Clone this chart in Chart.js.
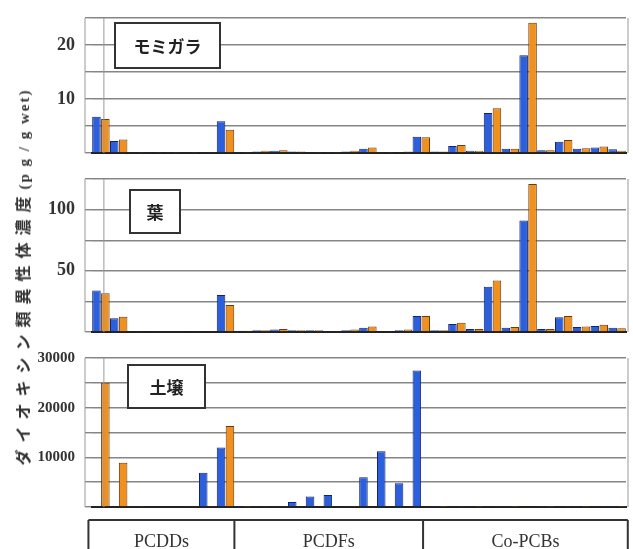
<!DOCTYPE html>
<html>
<head>
<meta charset="utf-8">
<script src="https://cdn.jsdelivr.net/npm/chart.js@4.4.0/dist/chart.umd.min.js"></script>
<style>
  html, body { margin: 0; padding: 0; background: #fff; }
  #wrap { position: relative; width: 633px; height: 549px; overflow: hidden; }
  .panel { position: absolute; left: 0; width: 633px; }
  #ytitle {
    position: absolute; left: 22px; top: 277px;
    transform: translate(-50%, -50%) rotate(-90deg);
    white-space: nowrap; color: #333;
    font: bold 16px "Noto Sans CJK JP"; letter-spacing: 7px;
  }
  #ytitle span { font: bold 15px "Liberation Serif"; letter-spacing: 2px; }
</style>
</head>
<body>
<div id="wrap">
  <div class="panel" style="top:-7px;height:185px"><canvas id="c1"></canvas></div>
  <div class="panel" style="top:154px;height:203px"><canvas id="c2"></canvas></div>
  <div class="panel" style="top:333px;height:216px"><canvas id="c3"></canvas></div>
  <div id="ytitle">ダイオキシン類異性体濃度<span>(p g / g wet)</span></div>
</div>
<script>
// congeners (labels hidden on the axis, grouped as PCDDs / PCDFs / Co-PCBs)
const categories = ['D1','D2','D3','D4','D5','D6','D7','D8',
  'F1','F2','F3','F4','F5','F6','F7','F8','F9','F10','F11',
  'P1','P2','P3','P4','P5','P6','P7','P8','P9','P10','P11'];

// モミガラ
const huskBlue   = [6.7, 2.2, 0.1, 0.1, 0.1, 0.1, 0.1, 5.9, 0.2, 0.3, 0.4, 0.3, 0.1, 0.1, 0.3,
                    0.8, 0.2, 0.2, 3.0, 0.3, 1.3, 0.4, 7.4, 0.8, 18.1, 0.5, 2.1, 0.8, 1.0, 0.7];
const huskOrange = [6.3, 2.5, 0.1, 0.1, 0.1, 0.1, 0.1, 4.3, 0.2, 0.4, 0.5, 0.3, 0.1, 0.1, 0.4,
                    1.0, 0.2, 0.3, 2.9, 0.3, 1.5, 0.4, 8.3, 0.8, 24.1, 0.5, 2.4, 0.9, 1.2, 0.4];
// 葉
const leafBlue   = [34, 11.3, 0.5, 0.5, 0.5, 0.5, 0.5, 30.3, 1, 1.5, 2, 1.5, 1.5, 0.5, 1.5,
                    3.5, 0.5, 1.5, 13, 1.5, 6.5, 2.5, 37, 3.5, 91, 2.5, 12, 4, 5, 3.5];
const leafOrange = [31.7, 12.4, 0.5, 0.5, 0.5, 0.5, 0.5, 22, 1, 1.5, 2.5, 1.5, 1.5, 0.5, 2,
                    4.5, 0.5, 2, 13, 1.5, 7.5, 2.5, 42, 4, 121, 2.5, 13, 4.5, 6, 3];
// 土壌
const soilBlue   = [0, 0, 80, 120, 150, 100, 6900, 12000, 50, 80, 100, 1000, 2100, 2400, 100,
                    6000, 11200, 4800, 27500, 60, 80, 60, 100, 60, 150, 60, 80, 60, 100, 60];
const soilOrange = [25000, 8900, 80, 120, 150, 100, 100, 16300, 50, 80, 100, 150, 150, 150, 100,
                    150, 150, 150, 200, 60, 80, 60, 100, 60, 150, 60, 80, 60, 100, 60];

const groups = ['PCDDs', 'PCDFs', 'Co-PCBs'];
const groupEdges = [-0.2, 8, 18.6, 30.1];   // in category units

const BLUE = '#2c5fdc', BLUE_EDGE = '#15236a';
const ORANGE = '#f0901e', ORANGE_EDGE = '#6b3a0e';

const framePlugin = {
  id: 'frame',
  afterDraw(chart) {
    const { ctx, chartArea: a, scales } = chart;
    ctx.save();
    ctx.strokeStyle = '#999';
    ctx.lineWidth = 1;
    ctx.beginPath();
    ctx.moveTo(a.left - 7, a.top); ctx.lineTo(a.left - 7, a.bottom);
    ctx.moveTo(a.right + 2, a.top); ctx.lineTo(a.right + 2, a.bottom);
    const x0 = scales.x.getPixelForValue(0) + 3;
    ctx.moveTo(x0, a.top); ctx.lineTo(x0, a.bottom);
    ctx.stroke();
    ctx.restore();
  }
};

const labelPlugin = {
  id: 'panelLabel',
  afterDraw(chart, args, o) {
    if (!o.text) return;
    const ctx = chart.ctx;
    ctx.save();
    ctx.fillStyle = '#fff';
    ctx.fillRect(o.x, o.y, o.w, o.h);
    ctx.strokeStyle = '#333';
    ctx.lineWidth = 2;
    ctx.strokeRect(o.x, o.y, o.w, o.h);
    ctx.fillStyle = '#222';
    ctx.font = 'bold 17px "Noto Sans CJK JP"';
    ctx.textAlign = 'center';
    ctx.textBaseline = 'middle';
    ctx.fillText(o.text, o.x + o.w / 2, o.y + o.h / 2 + 1);
    ctx.restore();
  }
};

const groupPlugin = {
  id: 'groupBox',
  afterDraw(chart, args, o) {
    if (!o.show) return;
    const { ctx, scales } = chart;
    const x = scales.x;
    const step = x.getPixelForValue(1) - x.getPixelForValue(0);
    const edge = e => x.getPixelForValue(0) - step / 2 + e * step;
    const top = o.top;
    ctx.save();
    ctx.strokeStyle = '#333';
    ctx.lineWidth = 2;
    ctx.beginPath();
    ctx.moveTo(edge(groupEdges[0]), top);
    ctx.lineTo(edge(groupEdges[groupEdges.length - 1]), top);
    groupEdges.forEach(e => { ctx.moveTo(edge(e), top); ctx.lineTo(edge(e), chart.height); });
    ctx.stroke();
    ctx.fillStyle = '#333';
    ctx.font = '18px "Liberation Serif"';
    ctx.textAlign = 'center';
    ctx.textBaseline = 'middle';
    groups.forEach((g, i) => {
      ctx.fillText(g, (edge(groupEdges[i]) + edge(groupEdges[i + 1])) / 2, top + 22);
    });
    ctx.restore();
  }
};

function makeChart(id, blue, orange, yMax, step, labelStep, label, padBottom, fontSize, group) {
  return new Chart(document.getElementById(id), {
    type: 'bar',
    data: {
      labels: categories,
      datasets: [
        { data: blue, backgroundColor: BLUE, borderColor: BLUE_EDGE, borderWidth: 1 },
        { data: orange, backgroundColor: ORANGE, borderColor: ORANGE_EDGE, borderWidth: 1 }
      ]
    },
    options: {
      responsive: true,
      maintainAspectRatio: false,
      animation: false,
      layout: { padding: { top: 25, right: 7, bottom: padBottom } },
      datasets: { bar: { categoryPercentage: 1.0, barPercentage: 0.96 } },
      plugins: {
        legend: { display: false },
        tooltip: { enabled: false },
        panelLabel: label,
        groupBox: group || { show: false }
      },
      scales: {
        x: {
          grid: { display: false, drawTicks: false },
          ticks: { display: false },
          border: { display: true, color: '#222', width: 2 }
        },
        y: {
          min: 0, max: yMax,
          afterFit: s => { s.width = 92; },
          ticks: {
            stepSize: step, padding: 10, color: '#333',
            font: { family: '"Liberation Serif"', size: fontSize, weight: 'bold' },
            callback: v => (v > 0 && v % labelStep === 0) ? v : ''
          },
          grid: { color: '#858585', lineWidth: 1.4, tickLength: 7 },
          border: { display: false }
        }
      }
    },
    plugins: [framePlugin, labelPlugin, groupPlugin]
  });
}

makeChart('c1', huskBlue, huskOrange, 25, 5, 10,
  { text: 'モミガラ', x: 115, y: 30, w: 105, h: 45 }, 25, 18);
makeChart('c2', leafBlue, leafOrange, 125, 25, 50,
  { text: '葉', x: 130, y: 36, w: 50, h: 43 }, 25, 18);
makeChart('c3', soilBlue, soilOrange, 30000, 5000, 10000,
  { text: '土壌', x: 128, y: 32, w: 77, h: 43 }, 42, 15,
  { show: true, top: 187 });
</script>
</body>
</html>
